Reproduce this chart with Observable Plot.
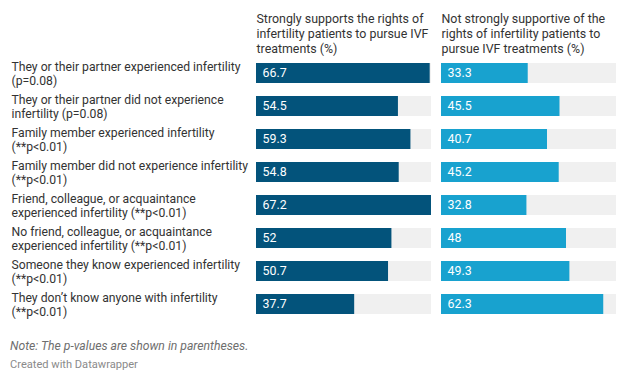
<!DOCTYPE html>
<html>
<head>
<meta charset="utf-8">
<script src="https://cdn.jsdelivr.net/npm/d3@7"></script>
<script src="https://cdn.jsdelivr.net/npm/@observablehq/plot@0.6"></script>
<style>
  html, body { margin: 0; padding: 0; background: #fff; }
  body { width: 627px; height: 382px; overflow: hidden; font-family: Roboto, sans-serif; }
  #chart svg { display: block; }
  .note { margin: 16px 0 0 10px; font-size: 12.2px; font-style: italic; color: #6e6e6e; line-height: 16px; }
  .credit { margin: 3px 0 0 10px; font-size: 11.1px; color: #8a8a8a; line-height: 15px; }
</style>
</head>
<body>
<div id="chart"></div>
<div class="note">Note: The p-values are shown in parentheses.</div>
<div class="credit">Created with Datawrapper</div>
<script>
const rowLabels = [
  "They or their partner experienced infertility\n(p=0.08)",
  "They or their partner did not experience\ninfertility (p=0.08)",
  "Family member experienced infertility\n(**p<0.01)",
  "Family member did not experience infertility\n(**p<0.01)",
  "Friend, colleague, or acquaintance\nexperienced infertility (**p<0.01)",
  "No friend, colleague, or acquaintance\nexperienced infertility (**p<0.01)",
  "Someone they know experienced infertility\n(**p<0.01)",
  "They don\u2019t know anyone with infertility\n(**p<0.01)"
];
const columns = [
  "Strongly supports the rights of\ninfertility patients to pursue IVF\ntreatments (%)",
  "Not strongly supportive of the\nrights of infertility patients to\npursue IVF treatments (%)"
];
const strongValues = [66.7, 54.5, 59.3, 54.8, 67.2, 52, 50.7, 37.7];
const notStrongValues = [33.3, 45.5, 40.7, 45.2, 32.8, 48, 49.3, 62.3];
const colColors = ["#03537b", "#18a2cf"];

const data = [];
rowLabels.forEach((r, i) => {
  data.push({row: r, col: columns[0], value: strongValues[i]});
  data.push({row: r, col: columns[1], value: notStrongValues[i]});
});
const xMax = d3.max(data, d => d.value);

const chart = Plot.plot({
  width: 627,
  height: 322,
  marginLeft: 256,
  marginRight: 11,
  marginTop: 55.5,
  marginBottom: 1,
  style: {fontFamily: "Roboto, sans-serif", fontSize: "12.2px", color: "#333"},
  fx: {domain: columns, paddingInner: 10 / 185, paddingOuter: 0, axis: null},
  x: {domain: [0, xMax], axis: null},
  y: {domain: rowLabels, paddingInner: 13 / 33, paddingOuter: 6.5 / 33, axis: null},
  color: {domain: columns, range: colColors},
  marks: [
    Plot.barX(data, {fx: "col", y: "row", x1: 0, x2: xMax, fill: "#f0f0f0"}),
    Plot.barX(data, {fx: "col", y: "row", x1: 0, x2: "value", fill: "col"}),
    Plot.text(data, {fx: "col", y: "row", x: 0, text: d => String(d.value), textAnchor: "start", dx: 6, fill: "white", fontSize: 12.4}),
    Plot.text(columns, {fx: d => d, text: d => d, frameAnchor: "top-left", textAnchor: "start", lineAnchor: "top", dy: -43, lineHeight: 1.18, fill: "#333", fontSize: 12.4}),
    Plot.text(rowLabels, {fx: () => columns[0], y: d => d, text: d => d, frameAnchor: "left", textAnchor: "start", dx: -245, lineAnchor: "middle", lineHeight: 1.1, fill: "#333", fontSize: 12.2})
  ]
});
document.getElementById("chart").appendChild(chart);
</script>
</body>
</html>
